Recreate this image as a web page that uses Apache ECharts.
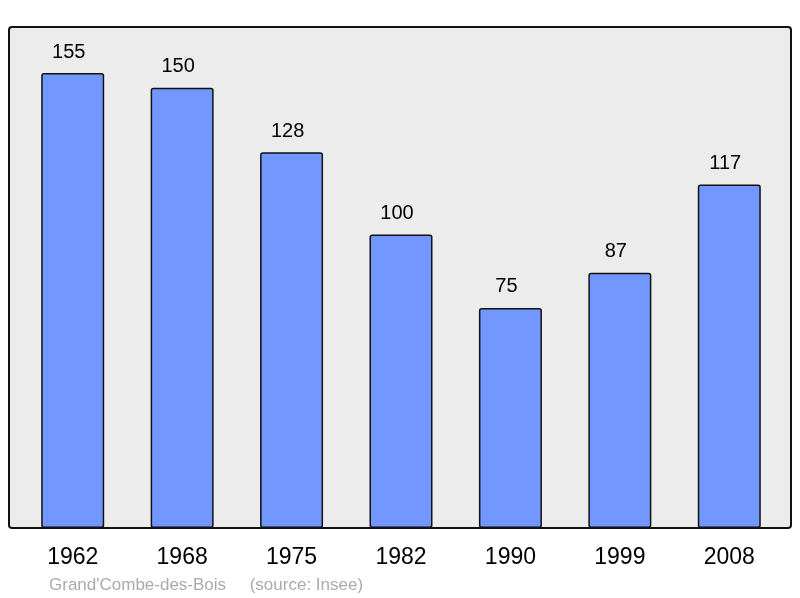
<!DOCTYPE html>
<html>
<head>
    <meta charset="utf-8">
    <title>ECharts</title>
    <script src="https://cdn.jsdelivr.net/npm/echarts@6/dist/echarts.min.js"></script>
    <style>
      html, body { margin: 0; padding: 0; background: #fff; }
    </style>
</head>
<body>
    <div id="main" style="width: 800px;height:598px;"></div>
    <script type="text/javascript">
      // 数据
      var years = ['1962', '1968', '1975', '1982', '1990', '1999', '2008'];
      var population = [155, 150, 128, 100, 75, 87, 117];
      var footer = "Grand'Combe-des-Bois     (source: Insee)";

      var myChart = echarts.init(document.getElementById('main'));
      var option = {
        backgroundColor: '#ffffff',
        animation: false,
        textStyle: { fontFamily: 'Liberation Sans, Arial, sans-serif' },
        graphic: [
          {
            type: 'rect',
            z: -10,
            shape: { x: 9, y: 27, width: 782, height: 501, r: 3 },
            style: { fill: '#ececec', stroke: '#111', lineWidth: 2 }
          },
          {
            type: 'text',
            left: 49,
            top: 577,
            style: {
              text: footer,
              fill: '#aaaaaa',
              font: '17px Liberation Sans, Arial, sans-serif'
            }
          }
        ],
        grid: { left: 18, right: 16, top: 27, bottom: 70 },
        xAxis: {
          type: 'category',
          data: years,
          axisLine: { show: false },
          axisTick: { show: false },
          axisLabel: { color: '#000', fontSize: 23, margin: 18 }
        },
        yAxis: {
          type: 'value',
          min: 0,
          max: 170.7,
          show: false,
          splitLine: { show: false }
        },
        series: [{
          type: 'bar',
          data: population,
          barWidth: 63,
          itemStyle: {
            color: '#7297ff',
            borderColor: '#111',
            borderWidth: 1.5,
            borderRadius: 2
          },
          label: {
            show: true,
            position: 'top',
            distance: 11,
            offset: [-4, 0],
            color: '#000',
            fontSize: 20
          }
        }]
      };
      myChart.setOption(option);
    </script>
</body>
</html>
